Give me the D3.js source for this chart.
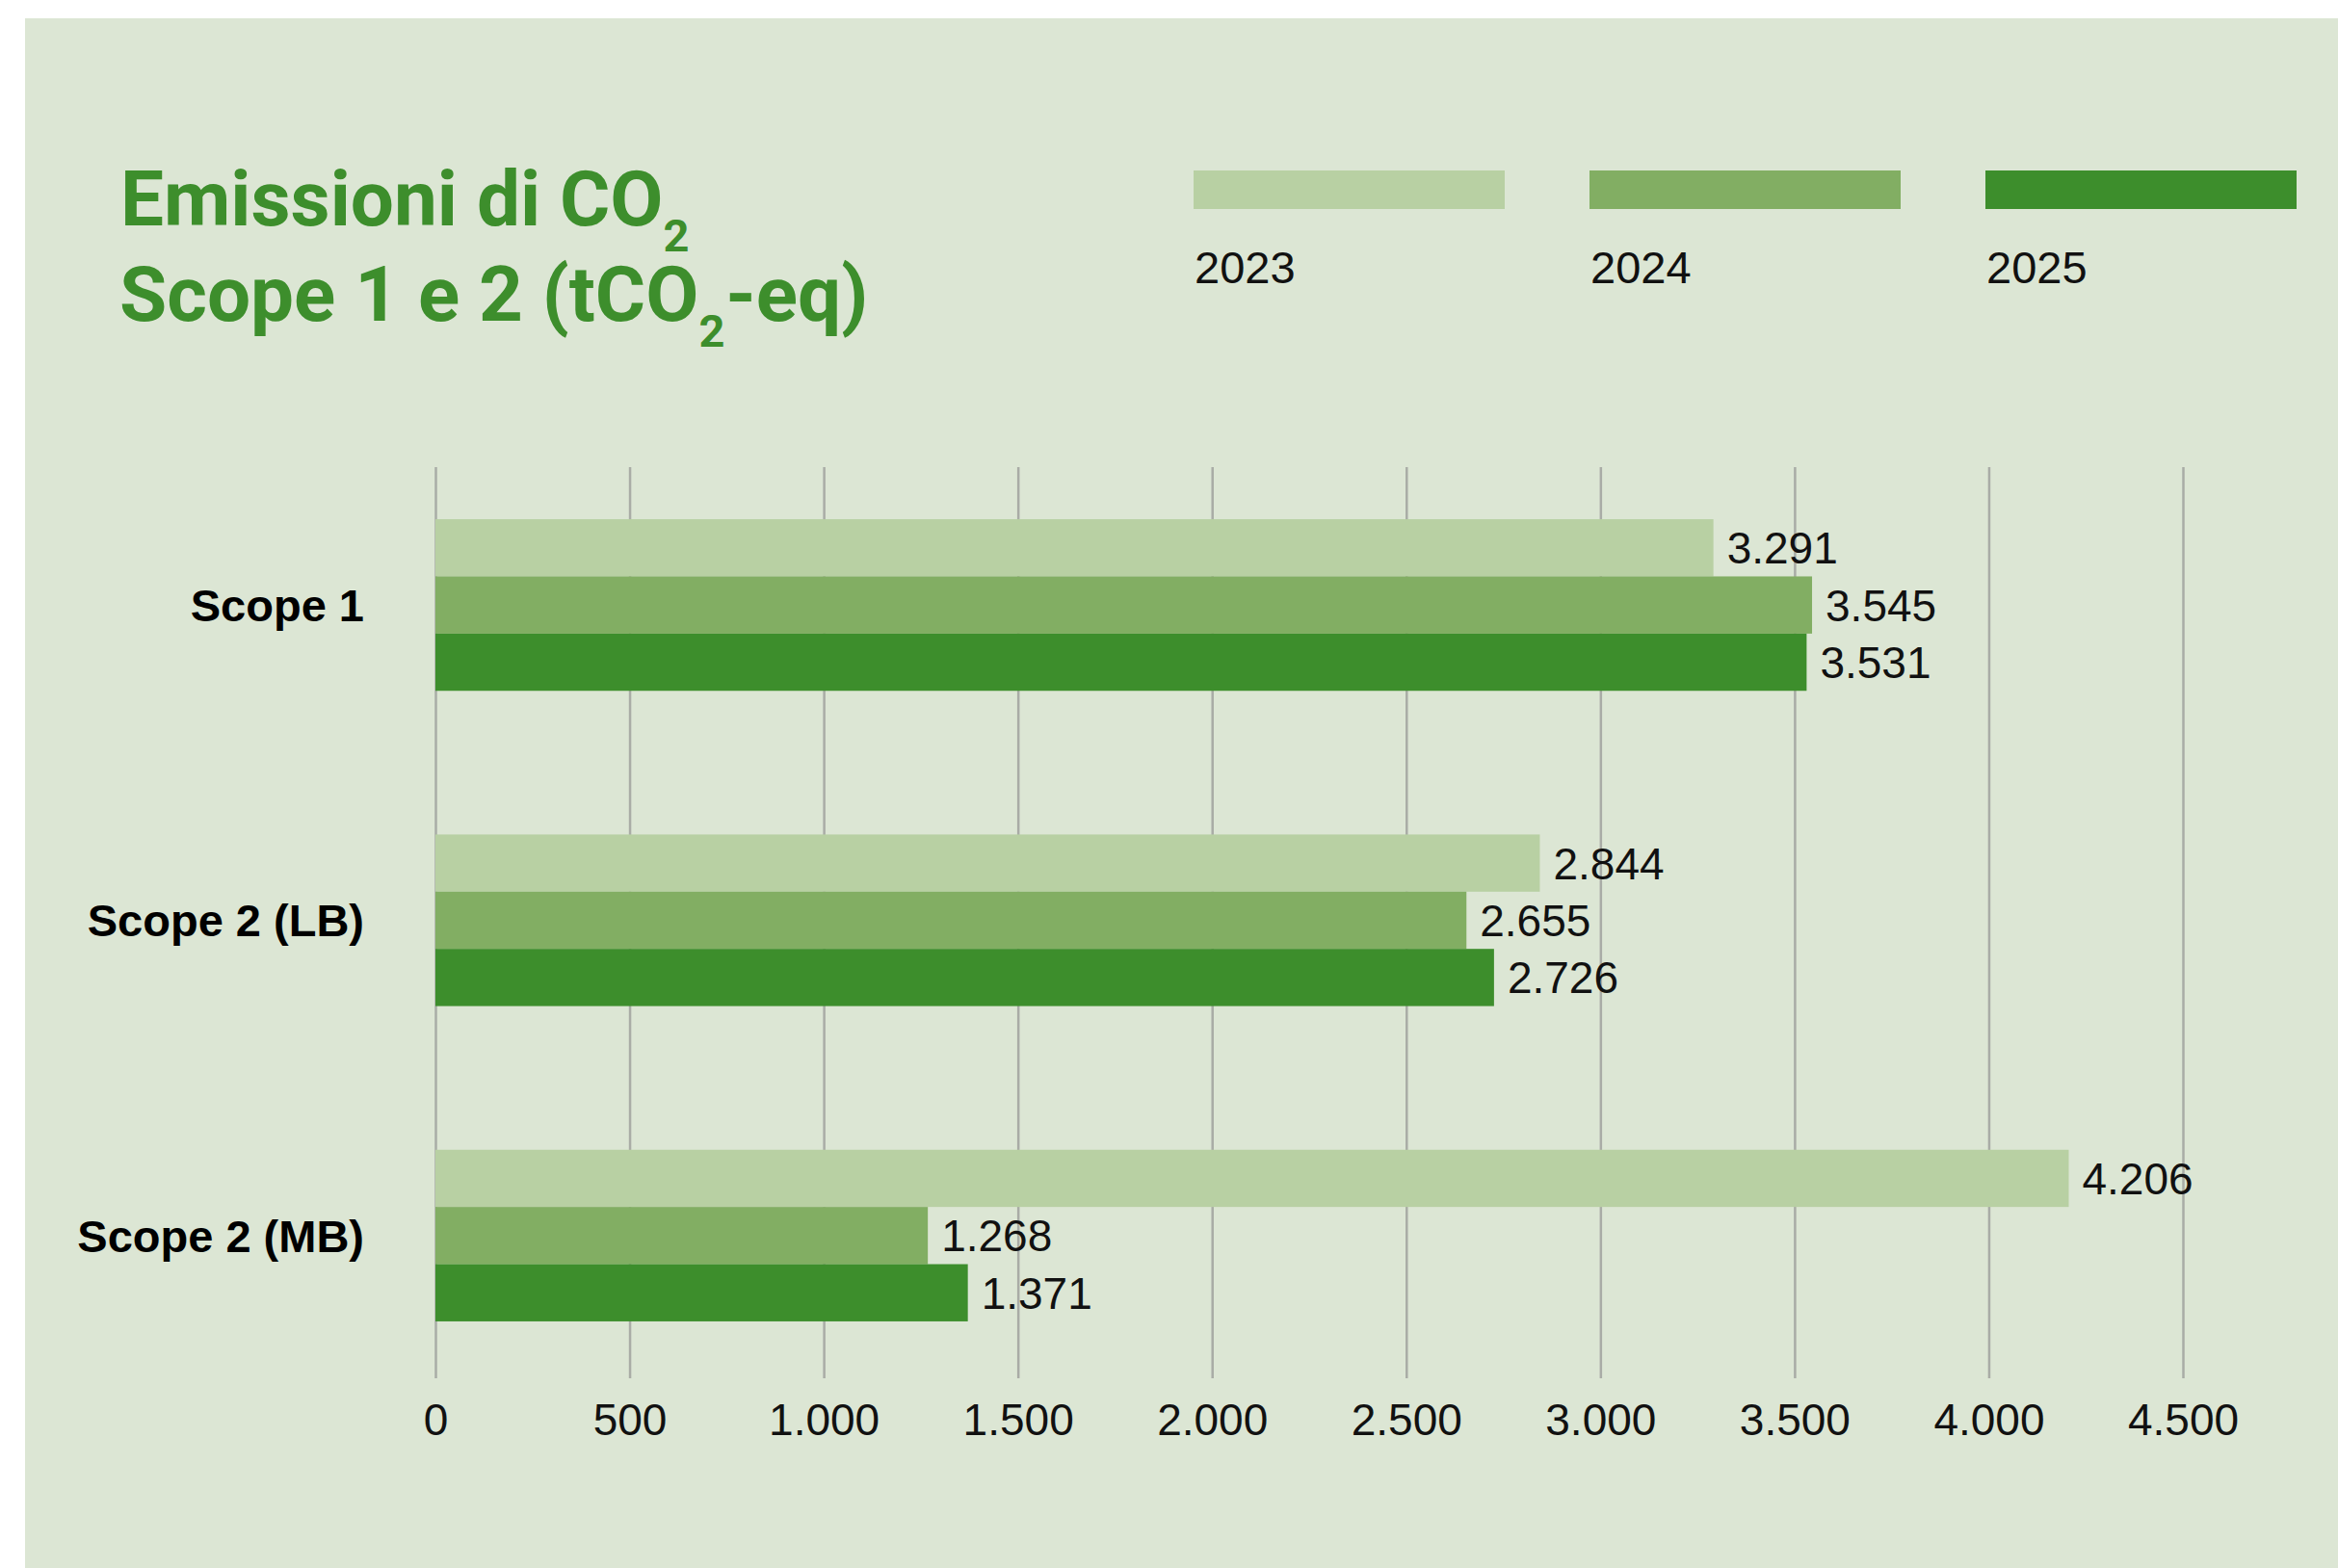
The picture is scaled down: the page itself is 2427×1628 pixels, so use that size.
<!DOCTYPE html>
<html>
<head>
<meta charset="utf-8">
<script src="https://cdn.jsdelivr.net/npm/d3@7"></script>
<style>
  html, body { margin: 0; padding: 0; background: #ffffff; }
  svg { display: block; }
</style>
</head>
<body>
<svg id="chart" width="2427" height="1628"></svg>
<script>
// Emissions data (tCO2-eq), one array per reporting year
const categories = ["Scope 1", "Scope 2 (LB)", "Scope 2 (MB)"];
const years = ["2023", "2024", "2025"];
const values2023 = [3291, 2844, 4206];
const values2024 = [3545, 2655, 1268];
const values2025 = [3531, 2726, 1371];
const xTicks = [0, 500, 1000, 1500, 2000, 2500, 3000, 3500, 4000, 4500];
const yearColors = ["#b8d0a3", "#82ae63", "#3d8e2c"];

const seriesByYear = [values2023, values2024, values2025];
const rows = categories.map((c, i) => ({
  category: c,
  values: years.map((y, j) => ({ year: y, value: seriesByYear[j][i] }))
}));

// Italian number formatting: "." as thousands separator
const it = d3.formatLocale({ decimal: ",", thousands: ".", grouping: [3], currency: ["€", ""] });
const fmt = it.format(",d");

const svg = d3.select("#chart");
const W = 2427, H = 1628;

const BG = "#dce6d4";
const TITLE = "#3d8e2c";
const numFont = "'Liberation Sans', Arial, Helvetica, sans-serif";

// Panel background
svg.append("rect").attr("x", 26).attr("y", 19).attr("width", W - 26).attr("height", H - 19).attr("fill", BG);

// Plot geometry
const gridTop = 485, gridBottom = 1431;
const x = d3.scaleLinear().domain([0, 4500]).range([452, 2266]);
const y = d3.scaleBand().domain(categories).range([473.6, 1437.4]).paddingInner(0.4557).paddingOuter(0.2);
const ySub = d3.scaleBand().domain(years).range([0, y.bandwidth()]);
const color = d3.scaleOrdinal().domain(years).range(yearColors);

// Vertical gridlines + tick labels
const axis = d3.axisBottom(x)
  .tickValues(xTicks)
  .tickFormat(fmt)
  .tickSize(-(gridBottom - gridTop))
  .tickPadding(26.5);

const gAxis = svg.append("g")
  .attr("transform", `translate(0,${gridBottom})`)
  .call(axis);
gAxis.select(".domain").remove();
gAxis.selectAll(".tick line").attr("stroke", "#a9aca6").attr("stroke-width", 2.5);
gAxis.selectAll(".tick text")
  .attr("fill", "#111")
  .style("font-family", numFont)
  .style("font-size", "46px");

// Bars
const groups = svg.append("g").selectAll("g")
  .data(rows)
  .join("g")
  .attr("transform", d => `translate(0,${y(d.category)})`);

groups.selectAll("rect")
  .data(d => d.values)
  .join("rect")
  .attr("x", x(0))
  .attr("y", d => ySub(d.year))
  .attr("width", d => x(d.value) - x(0))
  .attr("height", ySub.bandwidth())
  .attr("fill", d => color(d.year));

// Value labels at the end of each bar
groups.selectAll("text.value")
  .data(d => d.values)
  .join("text")
  .attr("class", "value")
  .attr("x", d => x(d.value) + 14)
  .attr("y", d => ySub(d.year) + ySub.bandwidth() / 2)
  .attr("dy", "0.36em")
  .attr("fill", "#111")
  .style("font-family", numFont)
  .style("font-size", "46px")
  .text(d => fmt(d.value));

// Category labels
svg.append("g").selectAll("text")
  .data(categories)
  .join("text")
  .attr("x", 378)
  .attr("y", d => y(d) + y.bandwidth() / 2)
  .attr("dy", "0.36em")
  .attr("text-anchor", "end")
  .attr("fill", "#000")
  .style("font-family", numFont)
  .style("font-weight", "bold")
  .style("font-size", "47px")
  .text(d => d);

// Legend
const legend = svg.append("g").selectAll("g")
  .data(years)
  .join("g")
  .attr("transform", (d, i) => `translate(${1239 + i * 411},0)`);
legend.append("rect")
  .attr("x", 0).attr("y", 177)
  .attr("width", 323).attr("height", 40)
  .attr("fill", d => color(d));
legend.append("text")
  .attr("x", 1).attr("y", 294)
  .attr("fill", "#111")
  .style("font-family", numFont)
  .style("font-size", "47px")
  .text(d => d);

// Title: each run is its own text element so the subscript "2" sits on a lower baseline
const titleFont = "Roboto, 'Open Sans', sans-serif";
const title = svg.append("g")
  .attr("fill", TITLE)
  .style("font-family", titleFont)
  .style("font-weight", "bold");

function titleLine(parts, tx, ty) {
  let cx = tx;
  parts.forEach(p => {
    const t = title.append("text")
      .attr("x", cx)
      .attr("y", p.sub ? ty + 27 : ty)
      .style("font-size", p.sub ? "47px" : "80px")
      .text(p.text);
    cx += t.node().getComputedTextLength() + (p.sub ? 1 : 0);
  });
}
titleLine([{ text: "Emissioni di CO" }, { text: "2", sub: true }], 125, 234);
titleLine([{ text: "Scope 1 e 2 (tCO" }, { text: "2", sub: true }, { text: "-eq)" }], 124, 333);
</script>
</body>
</html>
